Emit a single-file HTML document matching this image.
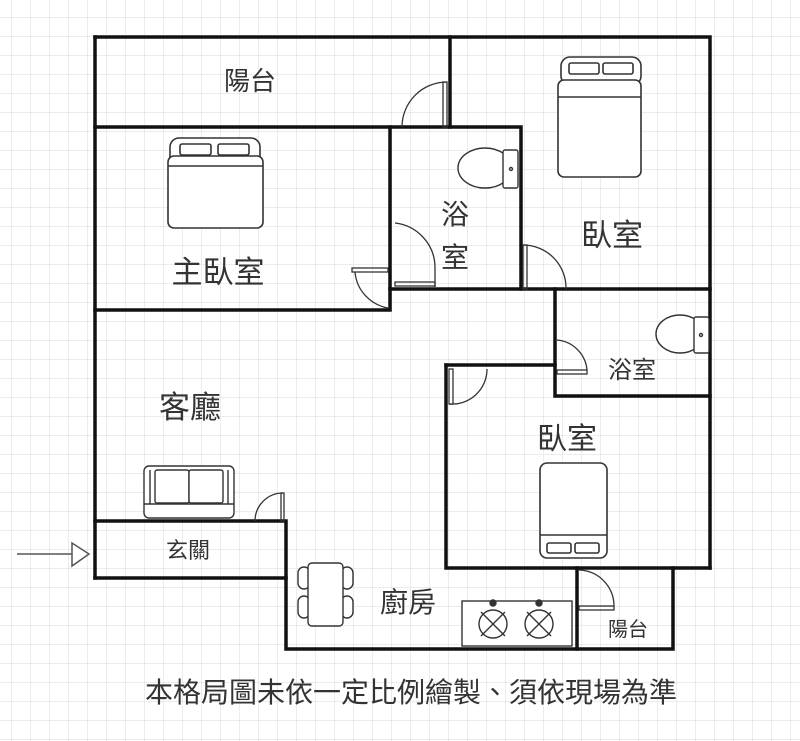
<!DOCTYPE html>
<html><head><meta charset="utf-8"><style>
html,body{margin:0;padding:0;background:#fff}
svg{display:block}
text{font-family:"Liberation Sans","Noto Sans CJK TC",sans-serif;fill:#333}
</style></head><body>
<svg width="800" height="741" viewBox="0 0 800 741" xmlns="http://www.w3.org/2000/svg">
<defs>
<pattern id="g" width="19" height="19" patternUnits="userSpaceOnUse" x="-7" y="-1">
<path d="M19 0V19M0 19H19" stroke="#d9d9d9" stroke-width="1" fill="none"/>
</pattern>
</defs>
<rect width="800" height="741" fill="url(#g)"/>
<g stroke="#111" stroke-width="3.5" fill="none" stroke-linecap="square">
<path d="M95 37H710V568"/>
<path d="M95 37V578"/>
<path d="M450 37V127"/>
<path d="M95 127H521V289"/>
<path d="M390 127V310H95"/>
<path d="M390 289H710"/>
<path d="M555 289V396H710"/>
<path d="M446 365H555"/>
<path d="M446 365V568H710"/>
<path d="M95 521H286V649H673V568"/>
<path d="M95 578H286"/>
<path d="M577 568V649"/>
</g>
<g stroke="#333" stroke-width="1.3" fill="none">
<path d="M402 127A45 45 0 0 1 447 82"/><rect x="443" y="82" width="4" height="45"/>
<path d="M395 223A45 45 0 0 1 435 268V287"/><rect x="395" y="282" width="40" height="4"/>
<path d="M355 272A40 40 0 0 0 388 308"/><rect x="352" y="268" width="36" height="4"/>
<path d="M523 245A43 43 0 0 1 566 289"/><rect x="523" y="245" width="4" height="44"/>
<path d="M557 340A33 33 0 0 1 587 370"/><rect x="557" y="370" width="30" height="4"/>
<path d="M449 404A35 35 0 0 0 487 369"/><rect x="449" y="369" width="4" height="35"/>
<path d="M255 521A28 28 0 0 1 283 493"/><rect x="281" y="493" width="3" height="28"/>
<path d="M579 570A36 36 0 0 1 614 606"/><rect x="579" y="606" width="35" height="4"/>
</g>
<g stroke="#333" stroke-width="1.6" fill="#fff">
<rect x="170" y="138" width="90" height="28" rx="9"/>
<rect x="180" y="144" width="31" height="11" rx="2"/><rect x="218" y="144" width="31" height="11" rx="2"/>
<rect x="168" y="156" width="95" height="72" rx="6"/>
<line x1="168" y1="166" x2="263" y2="166"/>
<rect x="561" y="57" width="80" height="28" rx="9"/>
<rect x="569" y="63" width="30" height="11" rx="2"/><rect x="603" y="63" width="30" height="11" rx="2"/>
<rect x="558" y="80" width="83" height="97" rx="6"/>
<line x1="558" y1="97" x2="641" y2="97"/>
<rect x="540" y="463" width="67" height="95" rx="7"/>
<line x1="540" y1="535" x2="607" y2="535"/>
<rect x="547" y="543" width="24" height="10" rx="2"/><rect x="575" y="543" width="24" height="10" rx="2"/>
</g>
<g stroke="#333" stroke-width="1.4" fill="#fff">
<ellipse cx="485" cy="168" rx="27" ry="20"/><rect x="503" y="150" width="15" height="38" rx="2"/><circle cx="511" cy="169" r="1.5"/>
<ellipse cx="680" cy="334" rx="24" ry="19"/><rect x="694" y="317" width="15" height="36" rx="2"/><circle cx="701" cy="335" r="1.5"/>
</g>
<g stroke="#333" stroke-width="1.4" fill="#fff">
<rect x="144" y="466" width="90" height="52" rx="5"/>
<line x1="150" y1="470" x2="150" y2="504"/><line x1="228" y1="470" x2="228" y2="504"/>
<rect x="155" y="470" width="34" height="33" rx="2"/><rect x="189" y="470" width="34" height="33" rx="2"/>
<line x1="144" y1="504" x2="234" y2="504"/>
</g>
<g stroke="#333" stroke-width="1.4" fill="#fff">
<rect x="298" y="567" width="12" height="22" rx="6"/><rect x="298" y="596" width="12" height="22" rx="6"/>
<rect x="341" y="567" width="12" height="22" rx="6"/><rect x="341" y="596" width="12" height="22" rx="6"/>
<rect x="308" y="563" width="35" height="63" rx="4"/>
</g>
<g stroke="#333" stroke-width="1.4" fill="#fff">
<rect x="462" y="601" width="110" height="45"/>
<circle cx="493" cy="624" r="14"/><circle cx="539" cy="624" r="14"/>
<path d="M481 612L505 636M505 612L481 636M527 612L551 636M551 612L527 636"/>
<circle cx="493" cy="603" r="3" fill="#333"/><circle cx="539" cy="603" r="3" fill="#333"/>
</g>
<g stroke="#555" stroke-width="1.5" fill="none">
<line x1="17" y1="554" x2="72" y2="554"/>
<path d="M72 543L89 554L72 566Z" fill="#fff"/>
</g>
<text x="250" y="90" font-size="26" text-anchor="middle">陽台</text>
<text x="218" y="283" font-size="31" text-anchor="middle">主臥室</text>
<text x="455" y="224" font-size="28" text-anchor="middle">浴</text>
<text x="455" y="267" font-size="28" text-anchor="middle">室</text>
<text x="612" y="246" font-size="31" text-anchor="middle">臥室</text>
<text x="632" y="378" font-size="24" text-anchor="middle">浴室</text>
<text x="190" y="418" font-size="31" text-anchor="middle">客廳</text>
<text x="567" y="449" font-size="30" text-anchor="middle">臥室</text>
<text x="188" y="558" font-size="22" text-anchor="middle">玄關</text>
<text x="408" y="612" font-size="28" text-anchor="middle">廚房</text>
<text x="628" y="636" font-size="20" text-anchor="middle">陽台</text>
<text x="411" y="702" font-size="28" text-anchor="middle">本格局圖未依一定比例繪製、須依現場為準</text>
</svg>
</body></html>
